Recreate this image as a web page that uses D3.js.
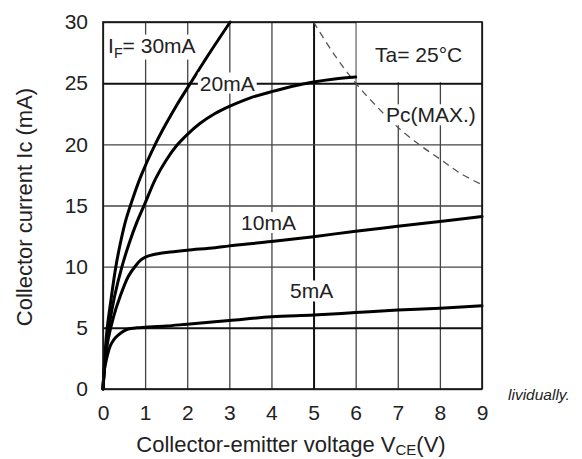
<html>
<head>
<style>
  body { margin: 0; background: #fff; }
  svg text { font-family: "Liberation Sans", Arial, Helvetica, sans-serif; fill: #222; }
</style>
</head>
<body>
<svg id="chart" width="582" height="459"></svg>
<script src="https://cdnjs.cloudflare.com/ajax/libs/d3/7.8.5/d3.min.js"></script>
<script>
// ---- data ----
var xTicks = [0, 1, 2, 3, 4, 5, 6, 7, 8, 9];
var yTicks = [0, 5, 10, 15, 20, 25, 30];

var v30 = [0, 0.05, 0.1, 0.19, 0.3, 0.43, 0.55, 0.68, 0.9, 1.24, 1.5, 1.75, 2.04, 2.5, 3.02];
var i30 = [0, 3, 5, 7.3, 9.9, 12.2, 13.9, 15.3, 17.4, 20, 21.7, 23.2, 24.8, 27.3, 30];

var v20 = [0, 0.05, 0.12, 0.27, 0.45, 0.62, 0.8, 1.0, 1.25, 1.5, 1.75, 2.0, 2.3, 2.65, 3, 3.5, 4, 4.5, 5, 5.5, 6];
var i20 = [0, 2.5, 4.6, 7.5, 10, 11.9, 13.6, 15.2, 17.2, 18.7, 19.9, 20.8, 21.7, 22.5, 23.1, 23.8, 24.3, 24.75, 25.1, 25.35, 25.5];

var v10 = [0, 0.05, 0.12, 0.25, 0.4, 0.6, 0.78, 0.9, 1.02, 1.3, 1.6, 2, 2.66, 3, 4, 5, 6, 7, 8, 9];
var i10 = [0, 2.2, 4, 5.9, 7.5, 9.2, 10.1, 10.55, 10.8, 11.05, 11.2, 11.35, 11.55, 11.7, 12.05, 12.45, 12.9, 13.3, 13.7, 14.1];

var v5 = [0, 0.03, 0.08, 0.17, 0.25, 0.36, 0.5, 0.6, 0.8, 1, 1.5, 2, 3, 4, 5, 6, 7, 8, 9];
var i5 = [0, 1.5, 2.4, 3.5, 4.0, 4.4, 4.75, 4.9, 5.0, 5.05, 5.15, 5.3, 5.6, 5.9, 6.05, 6.25, 6.45, 6.6, 6.8];

// Pc(MAX) limit
var pcV = [5, 5.5, 6, 6.5, 7, 7.5, 8, 8.5, 9];
var pcI = [30, 27.3, 25, 23.1, 21.4, 20, 18.8, 17.6, 16.7];

var heavyX = [5];
var heavyY = [5, 25];

// ---- layout ----
var svg = d3.select("#chart");
var mLeft = 103, mRight = 482, mTop = 22, mBottom = 389;
var W = mRight - mLeft, H = mBottom - mTop;

var x = d3.scaleLinear().domain([0, 9]).range([0, W]);
var y = d3.scaleLinear().domain([0, 30]).range([H, 0]);

var g = svg.append("g").attr("transform", "translate(" + mLeft + "," + mTop + ")");

// grid + tick labels via axes
var xAxis = g.append("g")
    .attr("transform", "translate(0," + H + ")")
    .call(d3.axisBottom(x).tickValues(xTicks).tickSize(-H).tickPadding(16).tickFormat(d3.format("d")));
var yAxis = g.append("g")
    .call(d3.axisLeft(y).tickValues(yTicks).tickSize(-W).tickPadding(15).tickFormat(d3.format("d")));

[xAxis, yAxis].forEach(function(a) {
  a.select(".domain").remove();
  a.selectAll("text").attr("font-size", 21).attr("fill", "#222")
    .attr("font-family", "'Liberation Sans', Arial, sans-serif");
});
xAxis.selectAll(".tick line")
  .attr("stroke", function(d) { return heavyX.indexOf(d) >= 0 ? "#111" : "#444"; })
  .attr("stroke-width", function(d) { return heavyX.indexOf(d) >= 0 ? 2 : 1.3; });
yAxis.selectAll(".tick line")
  .attr("stroke", function(d) { return heavyY.indexOf(d) >= 0 ? "#111" : "#444"; })
  .attr("stroke-width", function(d) { return heavyY.indexOf(d) >= 0 ? 2 : 1.3; });

// white panel top-right (no grid under Ta label)
g.append("rect")
  .attr("x", x(6) + 1).attr("y", y(30))
  .attr("width", x(9) - x(6) - 1).attr("height", y(25) - y(30) - 1)
  .attr("fill", "#fff");

// Pc(MAX) dashed curve
var line = d3.line().x(function(d) { return x(d[0]); }).y(function(d) { return y(d[1]); })
  .curve(d3.curveCatmullRom.alpha(0.5));
g.append("path")
  .attr("d", line(d3.zip(pcV, pcI)))
  .attr("fill", "none").attr("stroke", "#555").attr("stroke-width", 1.3)
  .attr("stroke-dasharray", "7,5");

// curves
var curves = [[v30, i30], [v20, i20], [v10, i10], [v5, i5]];
var curveGroup = g.append("g");
curves.forEach(function(c) {
  curveGroup.append("path")
    .attr("d", line(d3.zip(c[0], c[1])))
    .attr("fill", "none").attr("stroke", "#000").attr("stroke-width", 3)
    .attr("stroke-linejoin", "round").attr("stroke-linecap", "round");
});

// labels with white backing
var labelGroup = g.append("g");
function label(parts, vx, iy, size) {
  var t = labelGroup.append("text").attr("x", x(vx)).attr("y", y(iy)).attr("font-size", size);
  parts.forEach(function(p) {
    var s = t.append("tspan").text(p.t);
    if (p.sub) s.attr("font-size", size * 0.68);
    if (p.dy) s.attr("dy", p.dy);
  });
  var b = t.node().getBBox();
  labelGroup.insert("rect", function() { return t.node(); })
    .attr("x", b.x - 2).attr("y", b.y + 1).attr("width", b.width + 4).attr("height", b.height - 2)
    .attr("fill", "#fff");
  return t;
}

label([{t: "I"}, {t: "F", sub: true, dy: 5}, {t: "= 30mA", dy: -5}], 0.12, 27.5, 21);
label([{t: "20mA"}], 2.3, 24.4, 21);
label([{t: "10mA"}], 3.28, 13.0, 21);
label([{t: "5mA"}], 4.44, 7.4, 21);
label([{t: "Pc(MAX.)"}], 6.72, 21.8, 21);
labelGroup.append("text").attr("x", x(6.46)).attr("y", y(26.7)).attr("font-size", 21).text("Ta= 25\u00b0C");

// frame
g.append("rect").attr("width", W).attr("height", H)
  .attr("fill", "none").attr("stroke", "#111").attr("stroke-width", 1.6);

// axis titles
var xt = svg.append("text").attr("x", 291).attr("y", 452).attr("text-anchor", "middle").attr("font-size", 22);
xt.append("tspan").text("Collector-emitter voltage V");
xt.append("tspan").text("CE").attr("font-size", 15).attr("dy", 3);
xt.append("tspan").text("(V)").attr("dy", -3);

svg.append("text")
  .attr("transform", "translate(32,207) rotate(-90)")
  .attr("text-anchor", "middle").attr("font-size", 22)
  .text("Collector current Ic (mA)");

// stray caption fragment at right
svg.append("text").attr("x", 508).attr("y", 400).attr("font-size", 15.5)
  .attr("font-style", "italic").text("lividually.");
</script>
</body>
</html>
